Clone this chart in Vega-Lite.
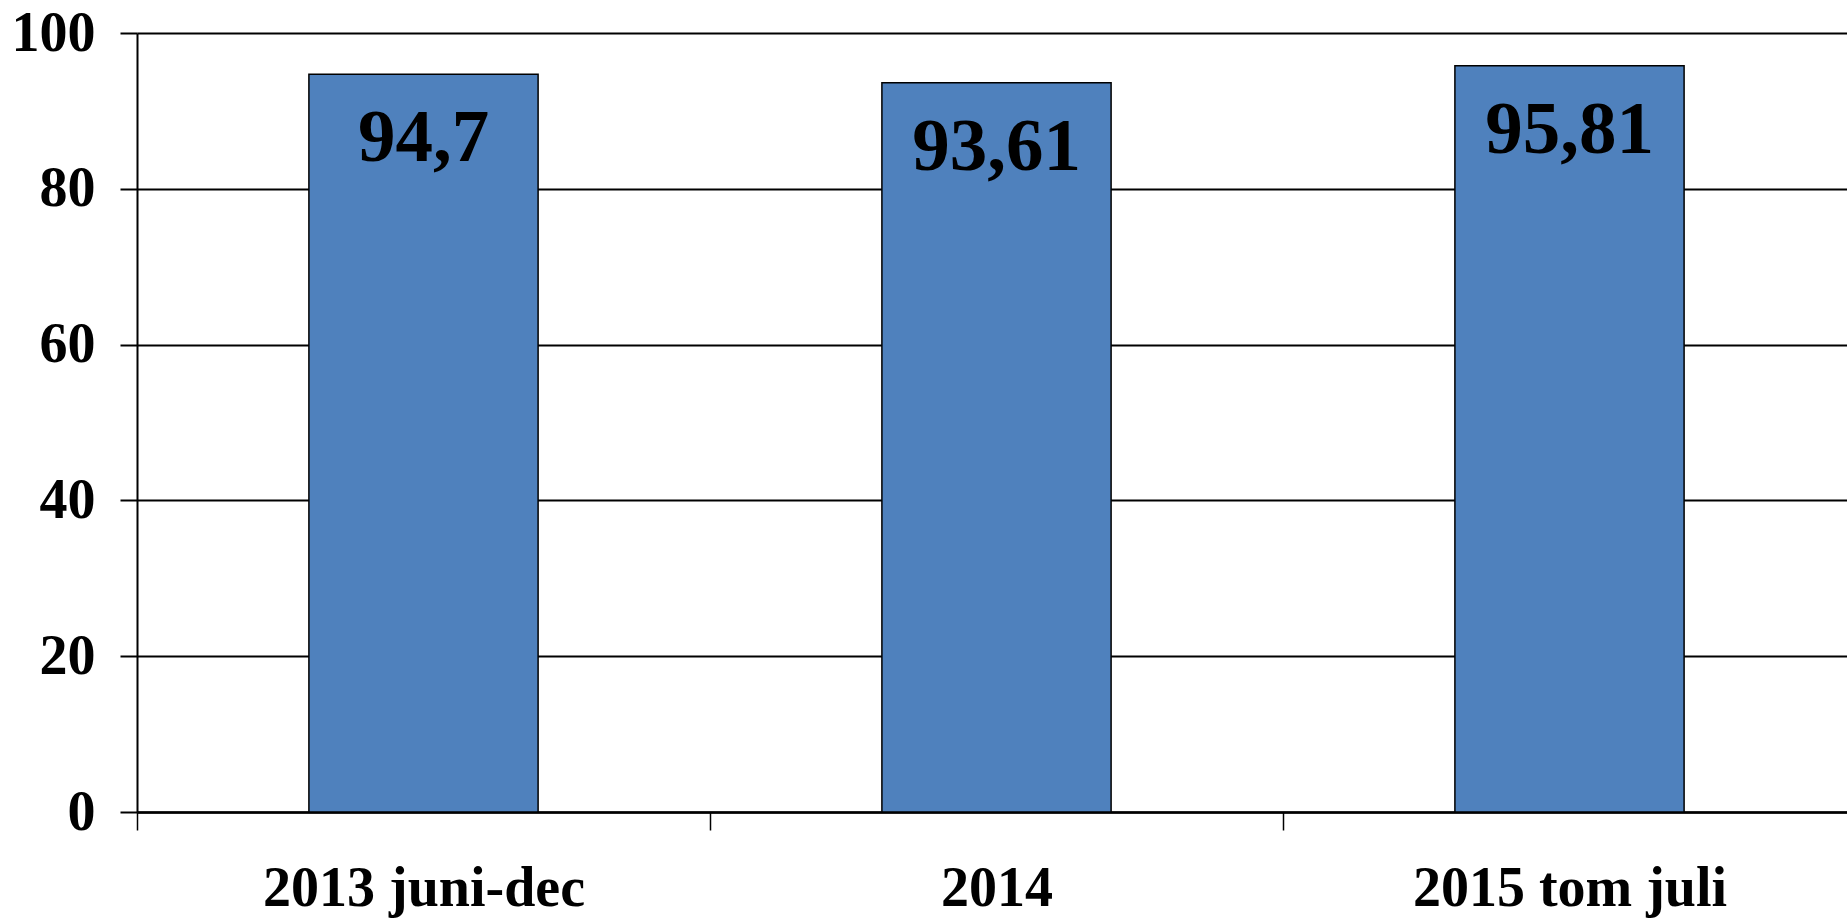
{
  "$schema": "https://vega.github.io/schema/vega-lite/v6.json",
  "width": 1710,
  "height": 779,
  "autosize": {"type": "none"},
  "padding": {"left": 137, "top": 33, "right": 0, "bottom": 106},
  "background": "white",
  "config": {
    "view": {"stroke": null},
    "font": "Liberation Serif",
    "locale": {"number": {"decimal": ",", "thousands": ".", "grouping": [3], "currency": ["", " €"]}}
  },
  "data": {
    "values": [
      {"period": "2013 juni-dec", "value": 94.7},
      {"period": "2014", "value": 93.61},
      {"period": "2015 tom juli", "value": 95.81}
    ]
  },
  "encoding": {
    "x": {
      "field": "period",
      "type": "nominal",
      "sort": null,
      "scale": {"range": [0, 1719], "paddingInner": 0, "paddingOuter": 0},
      "axis": {
        "title": null,
        "labelAngle": 0,
        "labelLimit": 0,
        "labelFont": "Liberation Serif",
        "labelFontWeight": "bold",
        "labelFontSize": 56,
        "labelColor": "black",
        "labelPadding": 31,
        "labelBaseline": "top",
        "tickBand": "extent",
        "tickSize": 18,
        "tickColor": "black",
        "tickWidth": 1.5,
        "domainColor": "black",
        "domainWidth": 2.5,
        "grid": false
      }
    },
    "y": {
      "field": "value",
      "type": "quantitative",
      "scale": {"domain": [0, 100], "nice": false},
      "axis": {
        "title": null,
        "values": [0, 20, 40, 60, 80, 100],
        "labelFont": "Liberation Serif",
        "labelFontWeight": "bold",
        "labelFontSize": 56,
        "labelColor": "black",
        "labelPadding": 25,
        "tickSize": 17,
        "tickColor": "black",
        "tickWidth": 2,
        "domainColor": "black",
        "domainWidth": 2,
        "grid": true,
        "gridColor": "black",
        "gridWidth": 2,
        "gridOpacity": 1
      }
    }
  },
  "layer": [
    {
      "mark": {"type": "bar", "width": {"band": 0.4}, "fill": "#4F81BD", "stroke": "black", "strokeWidth": 1.5}
    },
    {
      "mark": {
        "type": "text",
        "baseline": "alphabetic",
        "align": "center",
        "dy": 87,
        "font": "Liberation Serif",
        "fontWeight": "bold",
        "fontSize": 75,
        "color": "black"
      },
      "encoding": {
        "text": {"field": "value", "type": "quantitative", "format": ".2~f"}
      }
    }
  ]
}
